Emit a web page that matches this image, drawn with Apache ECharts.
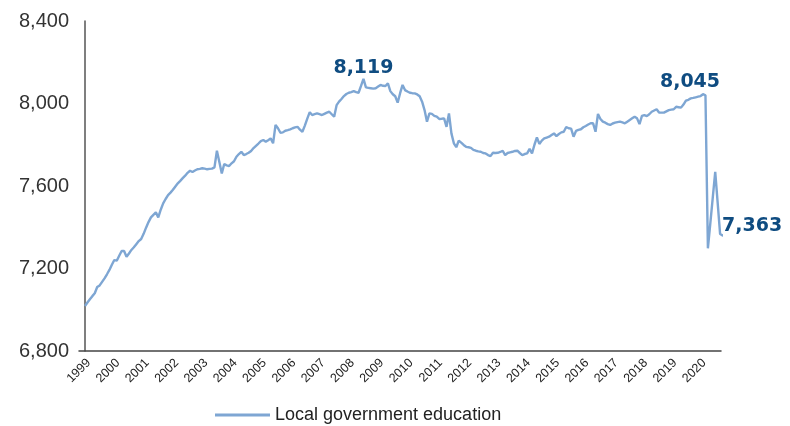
<!DOCTYPE html>
<html>
<head>
<meta charset="utf-8">
<script src="https://cdn.jsdelivr.net/npm/echarts@6/dist/echarts.min.js"></script>
<style>
  html, body { margin: 0; padding: 0; background: #fff; }
  #chart { width: 790px; height: 426px; }
</style>
</head>
<body>
<div id="chart"></div>
<script>
// Year tick labels (one per January)
const yearLabels = ['1999','2000','2001','2002','2003','2004','2005','2006','2007','2008','2009',
  '2010','2011','2012','2013','2014','2015','2016','2017','2018','2019','2020'];

const seriesName = 'Local government education';

// Monthly employment (thousands), Jan 1999 .. Nov 2020
const monthlyValues = [
  // 1999
  7018, 7035, 7051, 7066, 7080, 7110, 7118, 7135, 7152, 7172, 7193, 7218,
  // 2000
  7241, 7238, 7262, 7285, 7285, 7257, 7273, 7290, 7303, 7318, 7333, 7343,
  // 2001
  7368, 7398, 7425, 7448, 7460, 7472, 7448, 7485, 7516, 7537, 7556, 7568,
  // 2002
  7582, 7598, 7613, 7625, 7638, 7650, 7664, 7674, 7668, 7675, 7681, 7683,
  // 2003
  7686, 7684, 7681, 7683, 7684, 7690, 7771, 7716, 7661, 7707, 7700, 7697,
  // 2004
  7710, 7720, 7742, 7755, 7766, 7750, 7755, 7761, 7770, 7784, 7795, 7806,
  // 2005
  7818, 7823, 7815, 7822, 7831, 7807, 7896, 7880, 7858, 7860, 7868, 7871,
  // 2006
  7875, 7880, 7884, 7887, 7873, 7863, 7893, 7927, 7958, 7944, 7948, 7952,
  // 2007
  7948, 7944, 7950, 7956, 7960, 7948, 7936, 7992, 8009, 8022, 8036, 8046,
  // 2008
  8052, 8055, 8060, 8055, 8052, 8085, 8119, 8078, 8076, 8074, 8072, 8074,
  // 2009
  8082, 8090, 8086, 8085, 8098, 8060, 8045, 8035, 8004, 8050, 8090, 8065,
  // 2010
  8058, 8052, 8050, 8049, 8044, 8035, 8009, 7968, 7912, 7952, 7950, 7940,
  // 2011
  7936, 7925, 7926, 7928, 7887, 7952, 7855, 7807, 7788, 7820, 7810, 7799,
  // 2012
  7790, 7788, 7785, 7775, 7771, 7768, 7766, 7760, 7758, 7750, 7745, 7761,
  // 2013
  7760, 7761, 7765, 7771, 7750, 7760, 7763, 7766, 7770, 7771, 7760, 7750,
  // 2014
  7755, 7758, 7780, 7758, 7800, 7836, 7804, 7820, 7831, 7835, 7839, 7847,
  // 2015
  7855, 7842, 7852, 7860, 7863, 7886, 7880, 7878, 7839, 7867, 7872, 7875,
  // 2016
  7885, 7891, 7898, 7904, 7904, 7863, 7949, 7925, 7912, 7907, 7900, 7896,
  // 2017
  7903, 7907, 7910, 7912, 7908, 7904, 7912, 7920, 7928, 7936, 7928, 7900,
  // 2018
  7940, 7944, 7939, 7948, 7960, 7966, 7972, 7956, 7956, 7956, 7962, 7968,
  // 2019
  7970, 7972, 7984, 7982, 7980, 7995, 8014, 8018, 8025, 8027, 8030, 8033,
  // 2020
  8036, 8045, 8040, 7298, 7420, 7545, 7669, 7518, 7367, 7360, 7363
];

// Month indexes that carry a value label (the last month is labelled at the line's end)
const labelledMonths = [114, 253];

// y-axis range
const yMin = 6800, yMax = 8400, yStep = 400;

const labelStyles = {
  114: { position: 'top', distance: 1, offset: [0, 0] },
  253: { position: 'top', distance: 3, offset: [-13, 0] }
};

const valueLabelFont = {
  fontFamily: 'DejaVu Sans',
  fontWeight: 'bold',
  fontSize: 19,
  color: '#0f4c81'
};

const fmt = v => Number(v).toLocaleString('en-US');

const seriesData = monthlyValues.map((v, i) => [i, v]);

const markData = labelledMonths.map(i => {
  const s = labelStyles[i];
  return {
    coord: [i, monthlyValues[i]],
    value: monthlyValues[i],
    label: {
      show: true,
      position: s.position,
      distance: s.distance,
      offset: s.offset,
      formatter: p => fmt(p.value)
    }
  };
});

const chart = echarts.init(document.getElementById('chart'), null, { renderer: 'canvas' });

const perMonth = 640 / (monthlyValues.length - 1);
const xMin = -6 / perMonth;
const xMax = xMin + 642 / perMonth;
const labelShift = 1.5; // label anchor offset in months

chart.setOption({
  animation: false,
  backgroundColor: '#ffffff',
  grid: { left: 79, right: 69, top: 21, bottom: 75, containLabel: false },
  xAxis: {
    type: 'value',
    min: xMin,
    max: xMax,
    splitLine: { show: false },
    axisTick: { show: false },
    axisLine: { show: true, onZero: false, lineStyle: { color: '#444', width: 1.5 } },
    axisLabel: {
      customValues: yearLabels.map((y, k) => k * 12 + labelShift),
      formatter: v => yearLabels[Math.floor(v / 12)],
      rotate: 45,
      margin: 10,
      fontFamily: "'Liberation Sans', Arial, sans-serif",
      fontSize: 12.5,
      color: '#222'
    }
  },
  yAxis: {
    type: 'value',
    min: yMin,
    max: yMax,
    interval: yStep,
    splitLine: { show: false },
    axisTick: { show: false },
    axisLine: { show: true, lineStyle: { color: '#555', width: 1.5 } },
    axisLabel: {
      formatter: v => v.toLocaleString('en-US'),
      margin: 10,
      fontFamily: "'Liberation Sans', Arial, sans-serif",
      fontSize: 20,
      color: '#333'
    }
  },
  legend: {
    data: [seriesName],
    left: 215,
    top: 406,
    padding: 0,
    icon: 'rect',
    itemWidth: 55,
    itemHeight: 3,
    textStyle: {
      fontFamily: "'Liberation Sans', Arial, sans-serif",
      fontSize: 18,
      color: '#222'
    }
  },
  series: [{
    name: seriesName,
    type: 'line',
    data: seriesData,
    showSymbol: false,
    symbol: 'none',
    clip: false,
    lineStyle: { color: '#7ea6d3', width: 2.4 },
    itemStyle: { color: '#7ea6d3' },
    endLabel: Object.assign({
      show: true,
      distance: -1,
      offset: [0, -9],
      formatter: () => fmt(monthlyValues[monthlyValues.length - 1])
    }, valueLabelFont),
    markPoint: {
      symbol: 'circle',
      symbolSize: 0,
      silent: true,
      label: valueLabelFont,
      data: markData
    }
  }]
});
</script>
</body>
</html>
